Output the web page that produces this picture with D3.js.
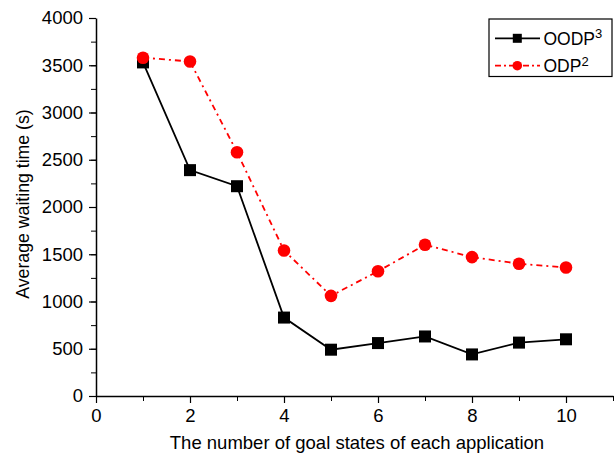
<!DOCTYPE html>
<html>
<head>
<meta charset="utf-8">
<script src="https://cdn.jsdelivr.net/npm/d3@7"></script>
<style>
  body { margin: 0; background: #fff; }
  svg { display: block; font-family: "Liberation Sans", Arial, sans-serif; }
</style>
</head>
<body>
<div id="chartEl"></div>
<script>
const goalStates = [1, 2, 3, 4, 5, 6, 7, 8, 9, 10];
const oodp = [3530, 2390, 2220, 830, 490, 560, 630, 440, 565, 600];
const odp = [3580, 3540, 2580, 1540, 1060, 1320, 1600, 1470, 1400, 1360];
const xTicks = [0, 2, 4, 6, 8, 10];
const yTicks = [0, 500, 1000, 1500, 2000, 2500, 3000, 3500, 4000];

const width = 614;
const height = 454;
const margin = {top: 18, right: 1, bottom: 58, left: 96};
const w = width - margin.left - margin.right;
const h = height - margin.top - margin.bottom;

const x = d3.scaleLinear().domain([0, 11]).range([0, w]);
const y = d3.scaleLinear().domain([0, 4000]).range([h, 0]);

const svg = d3.select('#chartEl').append('svg')
  .attr('width', width)
  .attr('height', height);

const g = svg.append('g')
  .attr('transform', 'translate(' + margin.left + ',' + margin.top + ')');

// minor ticks
const xMinor = d3.range(0, 12, 1);
const yMinor = d3.range(0, 4001, 250);

g.append('g')
  .attr('transform', 'translate(0,' + h + ')')
  .call(d3.axisBottom(x).tickValues(xMinor).tickSize(5).tickFormat(''))
  .call(s => s.select('.domain').remove());
g.append('g')
  .call(d3.axisLeft(y).tickValues(yMinor).tickSize(5).tickFormat(''))
  .call(s => s.select('.domain').remove());

const xAxis = g.append('g')
  .attr('transform', 'translate(0,' + h + ')')
  .call(d3.axisBottom(x).tickValues(xTicks).tickSize(7).tickSizeOuter(0).tickPadding(6));
const yAxis = g.append('g')
  .call(d3.axisLeft(y).tickValues(yTicks).tickFormat(d3.format('d')).tickSize(7).tickSizeOuter(0).tickPadding(6));

[xAxis, yAxis].forEach(a => {
  a.selectAll('text').style('font-size', '18.5px').attr('fill', '#000');
  a.selectAll('line').attr('stroke', '#000').attr('stroke-width', 1.2);
  a.select('.domain').attr('stroke', '#000').attr('stroke-width', 1.5);
});
g.selectAll('line').attr('stroke', '#000');

svg.append('text')
  .attr('x', 357)
  .attr('y', 449)
  .attr('text-anchor', 'middle')
  .style('font-size', '18.5px')
  .text('The number of goal states of each application');

svg.append('text')
  .attr('transform', 'translate(29,204) rotate(-90)')
  .attr('text-anchor', 'middle')
  .style('font-size', '17.7px')
  .text('Average waiting time (s)');

const line = d3.line()
  .x((d, i) => x(goalStates[i]))
  .y(d => y(d));

// ODP^2 red dash-dot
g.append('path')
  .datum(odp)
  .attr('fill', 'none')
  .attr('stroke', '#ff0000')
  .attr('stroke-width', 1.8)
  .attr('stroke-dasharray', '6,4,2,4')
  .attr('d', line);

// OODP^3 black solid
g.append('path')
  .datum(oodp)
  .attr('fill', 'none')
  .attr('stroke', '#000')
  .attr('stroke-width', 1.8)
  .attr('d', line);

g.selectAll('.sq')
  .data(oodp)
  .enter().append('rect')
  .attr('class', 'sq')
  .attr('x', (d, i) => x(goalStates[i]) - 6)
  .attr('y', d => y(d) - 6)
  .attr('width', 12)
  .attr('height', 12)
  .attr('fill', '#000');

g.selectAll('.dot')
  .data(odp)
  .enter().append('circle')
  .attr('class', 'dot')
  .attr('cx', (d, i) => x(goalStates[i]))
  .attr('cy', d => y(d))
  .attr('r', 6.3)
  .attr('fill', '#ff0000');

// legend
const legend = svg.append('g').attr('transform', 'translate(489,19)');
legend.append('rect')
  .attr('width', 123)
  .attr('height', 57.5)
  .attr('fill', '#fff')
  .attr('stroke', '#000')
  .attr('stroke-width', 1.2);

const items = [
  {name: 'OODP', sup: '3', color: '#000', dash: null, shape: 'square'},
  {name: 'ODP', sup: '2', color: '#ff0000', dash: '6,3,2,3', shape: 'circle'}
];
items.forEach((it, i) => {
  const yy = 19.3 + i * 27.4;
  const row = legend.append('g');
  row.append('line')
    .attr('x1', 6).attr('x2', 51)
    .attr('y1', yy).attr('y2', yy)
    .attr('stroke', it.color)
    .attr('stroke-width', 1.8)
    .attr('stroke-dasharray', it.dash);
  if (it.shape === 'square') {
    row.append('rect').attr('x', 28.3 - 4.5).attr('y', yy - 4.5)
      .attr('width', 9).attr('height', 9).attr('fill', it.color);
  } else {
    row.append('circle').attr('cx', 28.3).attr('cy', yy).attr('r', 4.8).attr('fill', it.color);
  }
  const t = row.append('text')
    .attr('x', 54.5)
    .attr('y', yy + 6.5)
    .style('font-size', '17.5px')
    .text(it.name);
  t.append('tspan')
    .attr('dy', -6.5)
    .style('font-size', '13px')
    .text(it.sup);
});
</script>
</body>
</html>
